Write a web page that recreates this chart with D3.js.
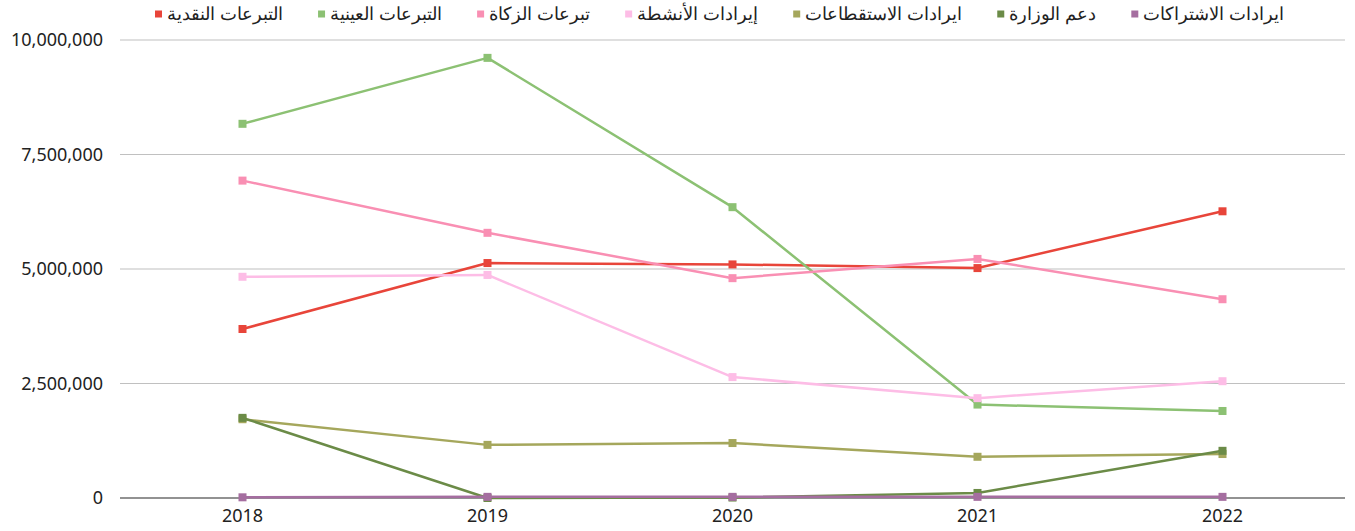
<!DOCTYPE html>
<html>
<head>
<meta charset="utf-8">
<script src="https://cdn.jsdelivr.net/npm/d3@7"></script>
<style>
  body { margin: 0; background: #fff; }
  svg { font-family: "Noto Sans", "Open Sans", sans-serif; }
</style>
</head>
<body>
<svg width="1355" height="531"></svg>
<script>
// data
const years = ['2018', '2019', '2020', '2021', '2022'];
const seriesNames = ['التبرعات النقدية', 'التبرعات العينية', 'تبرعات الزكاة', 'إيرادات الأنشطة',
  'ايرادات الاستقطاعات', 'دعم الوزارة', 'ايرادات الاشتراكات'];
const cashDonations = [3690000, 5130000, 5100000, 5020000, 6260000];
const inKindDonations = [8170000, 9610000, 6350000, 2040000, 1900000];
const zakatDonations = [6930000, 5790000, 4800000, 5220000, 4340000];
const activityRevenue = [4830000, 4870000, 2640000, 2180000, 2550000];
const deductionRevenue = [1720000, 1160000, 1200000, 900000, 960000];
const ministrySupport = [1750000, 0, 10000, 110000, 1030000];
const subscriptionRevenue = [15000, 25000, 25000, 25000, 25000];
const yTicks = [0, 2500000, 5000000, 7500000, 10000000];

const allValues = [cashDonations, inKindDonations, zakatDonations, activityRevenue,
  deductionRevenue, ministrySupport, subscriptionRevenue];
const colors = ['#e8453a', '#8cc173', '#f98fb3', '#fdbde6', '#a5a75c', '#6b8b47', '#a56ea0'];

const svg = d3.select('svg');
const plotLeft = 120, plotRight = 1345, plotTop = 40, plotBottom = 498;
const font = '"Noto Sans", "Open Sans", sans-serif';

const x = d3.scaleBand().domain(years).range([plotLeft, plotRight]).padding(0);
const y = d3.scaleLinear().domain([0, 10000000]).range([plotBottom, plotTop]);

// gridlines
svg.append('g')
  .selectAll('line')
  .data(yTicks)
  .enter()
  .append('line')
  .attr('x1', plotLeft).attr('x2', plotRight)
  .attr('y1', d => y(d)).attr('y2', d => y(d))
  .attr('stroke', d => d === 0 ? '#6e6e6e' : '#c0c0c0')
  .attr('stroke-width', d => d === 0 ? 1.6 : 1.2);

// y axis labels
const yAxis = svg.append('g')
  .attr('transform', 'translate(' + (plotLeft - 17) + ',0)')
  .call(d3.axisLeft(y).tickValues(yTicks).tickSize(0).tickPadding(0).tickFormat(d3.format(',')));
yAxis.select('.domain').remove();
yAxis.selectAll('text').attr('font-size', 18).attr('fill', '#222').attr('font-family', font);

// x axis labels
const xAxis = svg.append('g')
  .attr('transform', 'translate(0,' + (plotBottom + 11) + ')')
  .call(d3.axisBottom(x).tickSize(0).tickPadding(0));
xAxis.select('.domain').remove();
xAxis.selectAll('text').attr('font-size', 18).attr('fill', '#222').attr('font-family', font);

// lines and markers
const line = d3.line()
  .x((d, i) => x(years[i]) + x.bandwidth() / 2)
  .y(d => y(d));

allValues.forEach((vals, s) => {
  const g = svg.append('g');
  g.append('path')
    .datum(vals)
    .attr('d', line)
    .attr('fill', 'none')
    .attr('stroke', colors[s])
    .attr('stroke-width', 2.5)
    .attr('stroke-linejoin', 'round');
  g.selectAll('rect')
    .data(vals)
    .enter()
    .append('rect')
    .attr('x', (d, i) => x(years[i]) + x.bandwidth() / 2 - 4)
    .attr('y', d => y(d) - 4)
    .attr('width', 8)
    .attr('height', 8)
    .attr('fill', colors[s]);
});

// legend, spread across the same width as the reference
const legend = svg.append('g');
const items = legend.selectAll('g')
  .data(seriesNames)
  .enter()
  .append('g');
items.append('rect')
  .attr('width', 7).attr('height', 7)
  .attr('y', 10.5)
  .attr('fill', (d, i) => colors[i]);
items.append('text')
  .attr('x', 12)
  .attr('y', 20)
  .attr('font-size', 18)
  .attr('fill', '#222')
  .attr('direction', 'rtl')
  .attr('text-anchor', 'end')
  .text(d => d);

const widths = [];
items.each(function () {
  widths.push(this.querySelector('text').getComputedTextLength());
});
const legendLeft = 155, legendRight = 1284;
const gap = (legendRight - legendLeft - d3.sum(widths) - widths.length * 12) / (widths.length - 1);
let cx = legendLeft;
items.each(function (d, i) {
  d3.select(this).attr('transform', 'translate(' + cx + ',0)');
  cx += 12 + widths[i] + gap;
});
</script>
</body>
</html>
